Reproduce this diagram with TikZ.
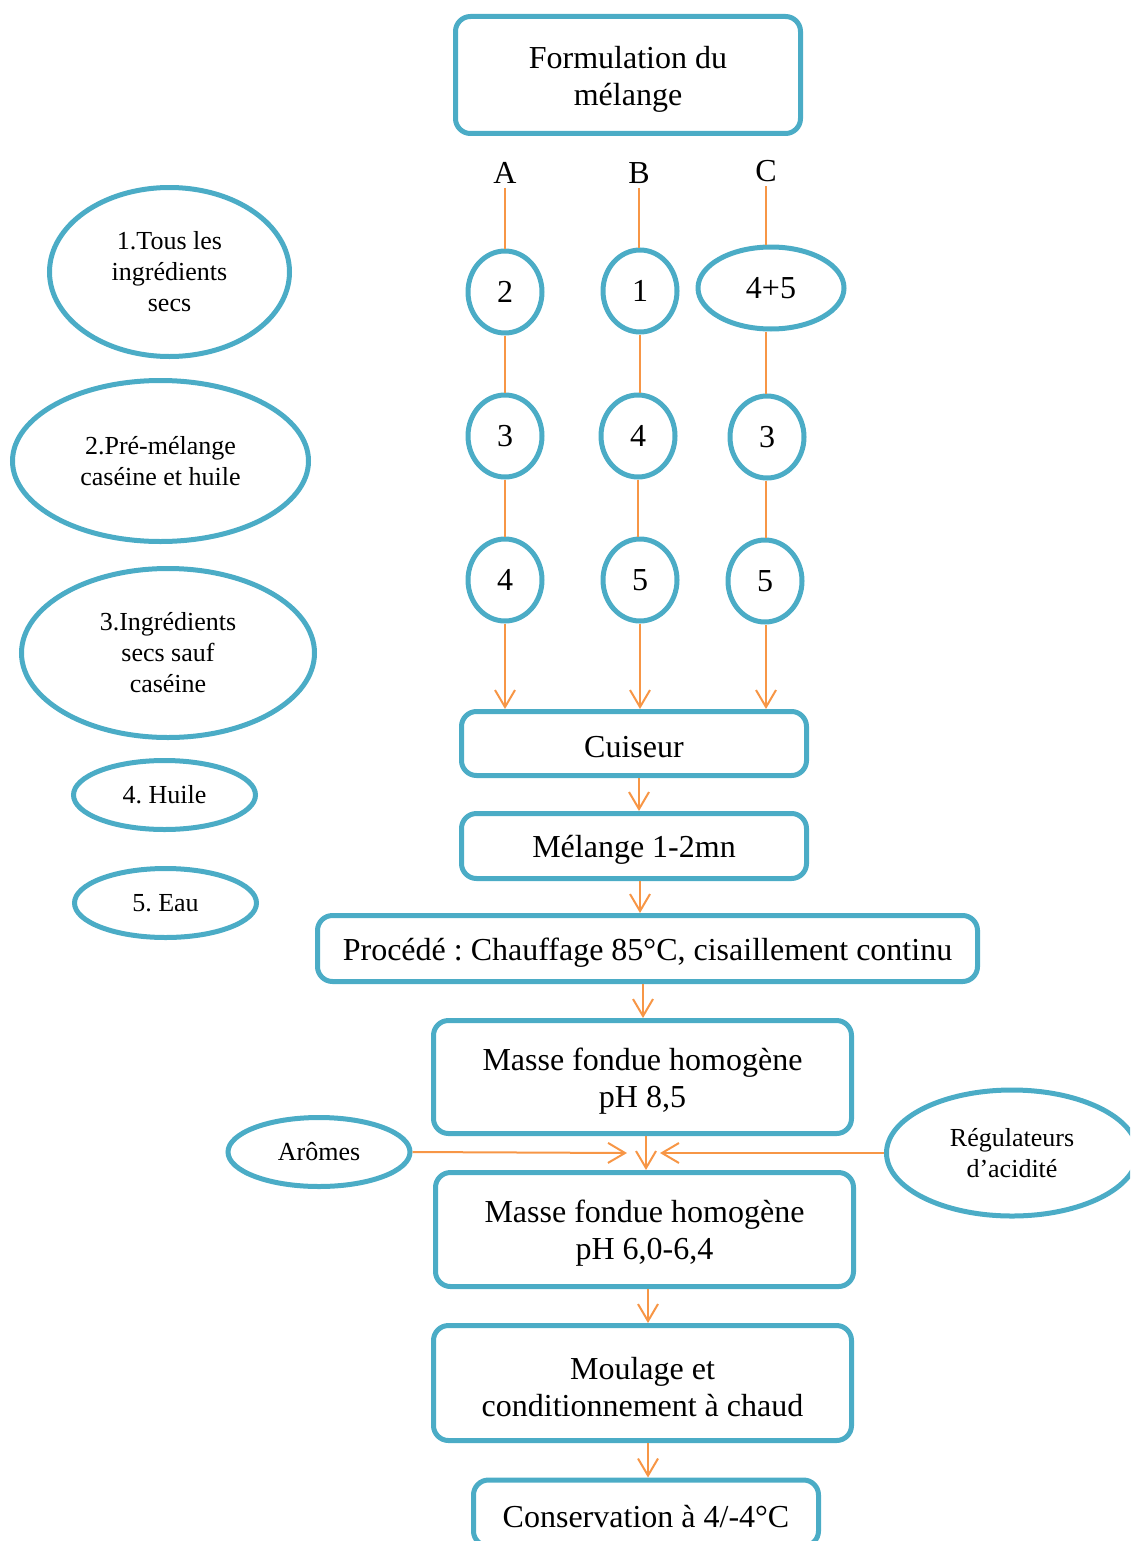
\documentclass[tikz,border=0pt]{standalone}
\usepackage{fontspec}
\setmainfont{Liberation Serif}
\frenchspacing
\usetikzlibrary{shapes.geometric,arrows.meta}
\definecolor{bl}{RGB}{75,172,198}
\definecolor{orng}{RGB}{247,150,70}
\begin{document}
\begin{tikzpicture}[x=0.5pt,y=-0.5pt,
 box/.style={draw=bl,line width=2.5pt,rounded corners=7.5pt,inner sep=0pt},
 txt/.style={align=center,inner sep=0pt,yshift=-2pt,font=\fontsize{16}{18.5}\selectfont},
 ell/.style={draw=bl,line width=2.5pt,ellipse,align=center,inner sep=0pt,font=\fontsize{13}{15.5}\selectfont},
 circ/.style={ell,font=\fontsize{16}{18.5}\selectfont,minimum width=37pt,minimum height=41pt},
 lab/.style={inner sep=2pt,font=\fontsize{16}{18.5}\selectfont},
 con/.style={draw=orng,line width=1pt},
 arr/.style={con,-{Straight Barb[length=8.5pt,width=10pt]}}]
\useasboundingbox (0,0) rectangle (1130,1541);
\clip (0,0) rectangle (1130,1541);

% main boxes
\node[box,minimum width=172.5pt,minimum height=58.5pt,label={[txt]center:{Formulation du\\mélange}}] (form) at (628,75) {};
\node[box,minimum width=172.5pt,minimum height=32pt,label={[txt]center:{Cuiseur}}] (cuis) at (634,743.5) {};
\node[box,minimum width=172.5pt,minimum height=32.5pt,label={[txt]center:{Mélange 1-2mn}}] (mel) at (634,846) {};
\node[box,minimum width=330pt,minimum height=33pt,label={[txt]center:{Procédé : Chauffage 85°C, cisaillement continu}}] (proc) at (647.5,948.5) {};
\node[box,minimum width=209pt,minimum height=56.5pt,label={[txt]center:{Masse fondue homogène\\pH 8,5}}] (m1) at (642.5,1077) {};
\node[box,minimum width=209pt,minimum height=57pt,label={[txt]center:{Masse fondue homogène\\pH 6,0-6,4}}] (m2) at (644.5,1229.5) {};
\node[box,minimum width=209pt,minimum height=57.5pt,label={[txt]center:{Moulage et\\conditionnement à chaud}}] (moul) at (642.5,1383) {};
\node[box,minimum width=172.5pt,minimum height=33pt,label={[txt]center:{Conservation à 4/-4°C}}] (cons) at (646,1513) {};

% column labels
\node[lab] (labA) at (505,173) {A};
\node[lab] (labB) at (639,173) {B};
\node[lab] (labC) at (766,171) {C};

% circles
\node[circ] (a1) at (505,292) {2};
\node[circ] (b1) at (640,291) {1};
\node[circ,minimum width=73pt] (c1) at (771,288) {4+5};
\node[circ] (a2) at (505,436) {3};
\node[circ] (b2) at (638,436) {4};
\node[circ] (c2) at (767,437) {3};
\node[circ] (a3) at (505,580) {4};
\node[circ] (b3) at (640,580) {5};
\node[circ] (c3) at (765,581) {5};

% legend ellipses
\node[ell,minimum width=120pt,minimum height=84.5pt] (e1) at (169.5,272) {1.Tous les\\ingrédients\\secs};
\node[ell,minimum width=148pt,minimum height=80.5pt] (e2) at (160.5,461) {2.Pré-mélange\\caséine et huile};
\node[ell,minimum width=146.5pt,minimum height=84.5pt] (e3) at (168,653) {3.Ingrédients\\secs sauf\\caséine};
\node[ell,minimum width=91pt,minimum height=34.5pt] (e4) at (164.5,795) {4. Huile};
\node[ell,minimum width=91pt,minimum height=34.5pt] (e5) at (165.5,903) {5. Eau};
\node[ell,minimum width=91pt,minimum height=34.5pt] (arom) at (319,1152) {Arômes};
\node[ell,minimum width=125.5pt,minimum height=63pt] (regul) at (1012,1153) {Régulateurs\\d’acidité};

% column connectors
\draw[con] (labA.south) -- (a1.north);
\draw[con] (a1.south) -- (a2.north);
\draw[con] (a2.south) -- (a3.north);
\draw[arr] (a3.south) -- (a3.south |- cuis.north);
\draw[con] (labB.south) -- (labB.south |- b1.north);
\draw[con] (b1.south) -- (b1.south |- b2.north);
\draw[con] (b2.south) -- (b2.south |- b3.north);
\draw[arr] (b3.south) -- (b3.south |- cuis.north);
\draw[con] (labC.south) -- (labC.south |- c1.north);
\draw[con] (labC.south |- c1.south) -- (labC.south |- c2.north);
\draw[con] (labC.south |- c2.south) -- (labC.south |- c3.north);
\draw[arr] (labC.south |- c3.south) -- (labC.south |- cuis.north);

% main flow
\draw[arr] ([xshift=2.5pt]cuis.south) -- ([xshift=2.5pt]cuis.south |- mel.north);
\draw[arr] ([xshift=3pt]mel.south) -- ([xshift=3pt]mel.south |- proc.north);
\draw[arr] ([xshift=-2.25pt]proc.south) -- ([xshift=-2.25pt]proc.south |- m1.north);
\draw[arr] ([xshift=1.75pt]m1.south) -- ([xshift=1.75pt]m1.south |- m2.north);
\draw[arr] ([xshift=1.75pt]m2.south) -- ([xshift=1.75pt]m2.south |- moul.north);
\draw[arr] ([xshift=2.75pt]moul.south) -- ([xshift=2.75pt]moul.south |- cons.north);

\coordinate (aromEnd) at (627,1153);
\coordinate (regEnd) at (660,1153);
\draw[arr] (arom.east) -- (aromEnd);
\draw[arr] (regul.west) -- (regEnd);
\end{tikzpicture}
\end{document}
